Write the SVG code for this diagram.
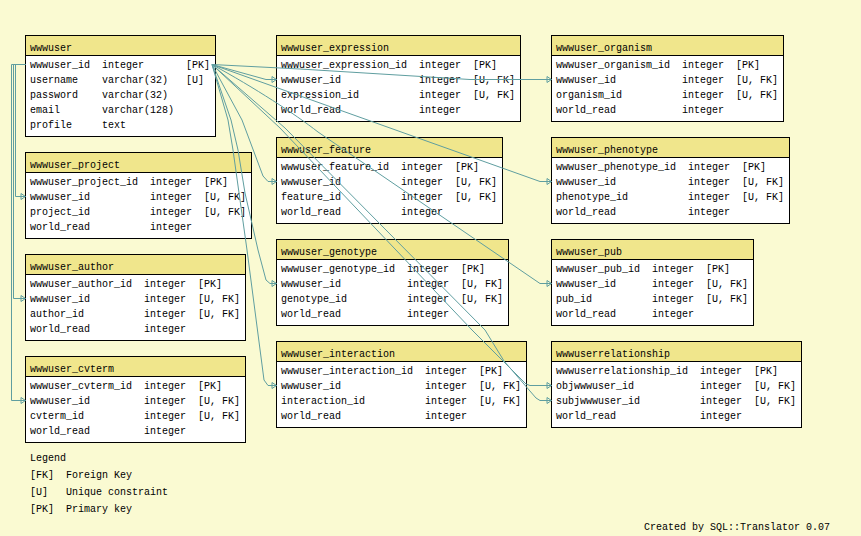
<svg xmlns="http://www.w3.org/2000/svg" width="861" height="536" viewBox="0 0 861 536">
<style>
text{font-family:"Liberation Mono","DejaVu Sans Mono",monospace;font-size:10px;fill:#000}
.box{fill:#fff;stroke:#000;stroke-width:1}
.hdr{fill:#f0e68c;stroke:#000;stroke-width:1}
.e{fill:none;stroke:#5f9ea0;stroke-width:1;marker-end:url(#arr)}
</style>
<defs>
<marker id="arr" markerUnits="userSpaceOnUse" markerWidth="6" markerHeight="8" viewBox="-1 -4 6 8" refX="4.5" refY="0" orient="auto">
<path d="M0,-3 L4.5,0 L0,3 Z" fill="none" stroke="#5f9ea0" stroke-width="1"/>
</marker>
</defs>
<rect x="0" y="0" width="861" height="536" fill="#fafad2"/>

<g id="wwwuser">
<rect class="box" x="25.5" y="35.5" width="190" height="101"/>
<rect class="hdr" x="25.5" y="35.5" width="190" height="20"/>
<text x="30" y="51">wwwuser</text>
<text x="30" y="68">wwwuser_id</text><text x="102" y="68">integer</text><text x="186" y="68">[PK]</text>
<text x="30" y="83">username</text><text x="102" y="83">varchar(32)</text><text x="186" y="83">[U]</text>
<text x="30" y="98">password</text><text x="102" y="98">varchar(32)</text>
<text x="30" y="113">email</text><text x="102" y="113">varchar(128)</text>
<text x="30" y="128">profile</text><text x="102" y="128">text</text>
</g>

<g id="wwwuser_project">
<rect class="box" x="25.5" y="152.5" width="226" height="86"/>
<rect class="hdr" x="25.5" y="152.5" width="226" height="20"/>
<text x="30" y="168">wwwuser_project</text>
<text x="30" y="185">wwwuser_project_id</text><text x="150" y="185">integer</text><text x="204" y="185">[PK]</text>
<text x="30" y="200">wwwuser_id</text><text x="150" y="200">integer</text><text x="204" y="200">[U, FK]</text>
<text x="30" y="215">project_id</text><text x="150" y="215">integer</text><text x="204" y="215">[U, FK]</text>
<text x="30" y="230">world_read</text><text x="150" y="230">integer</text>
</g>

<g id="wwwuser_author">
<rect class="box" x="25.5" y="254.5" width="220" height="86"/>
<rect class="hdr" x="25.5" y="254.5" width="220" height="20"/>
<text x="30" y="270">wwwuser_author</text>
<text x="30" y="287">wwwuser_author_id</text><text x="144" y="287">integer</text><text x="198" y="287">[PK]</text>
<text x="30" y="302">wwwuser_id</text><text x="144" y="302">integer</text><text x="198" y="302">[U, FK]</text>
<text x="30" y="317">author_id</text><text x="144" y="317">integer</text><text x="198" y="317">[U, FK]</text>
<text x="30" y="332">world_read</text><text x="144" y="332">integer</text>
</g>

<g id="wwwuser_cvterm">
<rect class="box" x="25.5" y="356.5" width="220" height="86"/>
<rect class="hdr" x="25.5" y="356.5" width="220" height="20"/>
<text x="30" y="372">wwwuser_cvterm</text>
<text x="30" y="389">wwwuser_cvterm_id</text><text x="144" y="389">integer</text><text x="198" y="389">[PK]</text>
<text x="30" y="404">wwwuser_id</text><text x="144" y="404">integer</text><text x="198" y="404">[U, FK]</text>
<text x="30" y="419">cvterm_id</text><text x="144" y="419">integer</text><text x="198" y="419">[U, FK]</text>
<text x="30" y="434">world_read</text><text x="144" y="434">integer</text>
</g>

<g id="wwwuser_expression">
<rect class="box" x="276.5" y="35.5" width="244" height="86"/>
<rect class="hdr" x="276.5" y="35.5" width="244" height="20"/>
<text x="281" y="51">wwwuser_expression</text>
<text x="281" y="68">wwwuser_expression_id</text><text x="419" y="68">integer</text><text x="473" y="68">[PK]</text>
<text x="281" y="83">wwwuser_id</text><text x="419" y="83">integer</text><text x="473" y="83">[U, FK]</text>
<text x="281" y="98">expression_id</text><text x="419" y="98">integer</text><text x="473" y="98">[U, FK]</text>
<text x="281" y="113">world_read</text><text x="419" y="113">integer</text>
</g>

<g id="wwwuser_feature">
<rect class="box" x="276.5" y="137.5" width="226" height="86"/>
<rect class="hdr" x="276.5" y="137.5" width="226" height="20"/>
<text x="281" y="153">wwwuser_feature</text>
<text x="281" y="170">wwwuser_feature_id</text><text x="401" y="170">integer</text><text x="455" y="170">[PK]</text>
<text x="281" y="185">wwwuser_id</text><text x="401" y="185">integer</text><text x="455" y="185">[U, FK]</text>
<text x="281" y="200">feature_id</text><text x="401" y="200">integer</text><text x="455" y="200">[U, FK]</text>
<text x="281" y="215">world_read</text><text x="401" y="215">integer</text>
</g>

<g id="wwwuser_genotype">
<rect class="box" x="276.5" y="239.5" width="232" height="86"/>
<rect class="hdr" x="276.5" y="239.5" width="232" height="20"/>
<text x="281" y="255">wwwuser_genotype</text>
<text x="281" y="272">wwwuser_genotype_id</text><text x="407" y="272">integer</text><text x="461" y="272">[PK]</text>
<text x="281" y="287">wwwuser_id</text><text x="407" y="287">integer</text><text x="461" y="287">[U, FK]</text>
<text x="281" y="302">genotype_id</text><text x="407" y="302">integer</text><text x="461" y="302">[U, FK]</text>
<text x="281" y="317">world_read</text><text x="407" y="317">integer</text>
</g>

<g id="wwwuser_interaction">
<rect class="box" x="276.5" y="341.5" width="250" height="86"/>
<rect class="hdr" x="276.5" y="341.5" width="250" height="20"/>
<text x="281" y="357">wwwuser_interaction</text>
<text x="281" y="374">wwwuser_interaction_id</text><text x="425" y="374">integer</text><text x="479" y="374">[PK]</text>
<text x="281" y="389">wwwuser_id</text><text x="425" y="389">integer</text><text x="479" y="389">[U, FK]</text>
<text x="281" y="404">interaction_id</text><text x="425" y="404">integer</text><text x="479" y="404">[U, FK]</text>
<text x="281" y="419">world_read</text><text x="425" y="419">integer</text>
</g>

<g id="wwwuser_organism">
<rect class="box" x="551.5" y="35.5" width="232" height="86"/>
<rect class="hdr" x="551.5" y="35.5" width="232" height="20"/>
<text x="556" y="51">wwwuser_organism</text>
<text x="556" y="68">wwwuser_organism_id</text><text x="682" y="68">integer</text><text x="736" y="68">[PK]</text>
<text x="556" y="83">wwwuser_id</text><text x="682" y="83">integer</text><text x="736" y="83">[U, FK]</text>
<text x="556" y="98">organism_id</text><text x="682" y="98">integer</text><text x="736" y="98">[U, FK]</text>
<text x="556" y="113">world_read</text><text x="682" y="113">integer</text>
</g>

<g id="wwwuser_phenotype">
<rect class="box" x="551.5" y="137.5" width="238" height="86"/>
<rect class="hdr" x="551.5" y="137.5" width="238" height="20"/>
<text x="556" y="153">wwwuser_phenotype</text>
<text x="556" y="170">wwwuser_phenotype_id</text><text x="688" y="170">integer</text><text x="742" y="170">[PK]</text>
<text x="556" y="185">wwwuser_id</text><text x="688" y="185">integer</text><text x="742" y="185">[U, FK]</text>
<text x="556" y="200">phenotype_id</text><text x="688" y="200">integer</text><text x="742" y="200">[U, FK]</text>
<text x="556" y="215">world_read</text><text x="688" y="215">integer</text>
</g>

<g id="wwwuser_pub">
<rect class="box" x="551.5" y="239.5" width="202" height="86"/>
<rect class="hdr" x="551.5" y="239.5" width="202" height="20"/>
<text x="556" y="255">wwwuser_pub</text>
<text x="556" y="272">wwwuser_pub_id</text><text x="652" y="272">integer</text><text x="706" y="272">[PK]</text>
<text x="556" y="287">wwwuser_id</text><text x="652" y="287">integer</text><text x="706" y="287">[U, FK]</text>
<text x="556" y="302">pub_id</text><text x="652" y="302">integer</text><text x="706" y="302">[U, FK]</text>
<text x="556" y="317">world_read</text><text x="652" y="317">integer</text>
</g>

<g id="wwwuserrelationship">
<rect class="box" x="551.5" y="341.5" width="250" height="86"/>
<rect class="hdr" x="551.5" y="341.5" width="250" height="20"/>
<text x="556" y="357">wwwuserrelationship</text>
<text x="556" y="374">wwwuserrelationship_id</text><text x="700" y="374">integer</text><text x="754" y="374">[PK]</text>
<text x="556" y="389">objwwwuser_id</text><text x="700" y="389">integer</text><text x="754" y="389">[U, FK]</text>
<text x="556" y="404">subjwwwuser_id</text><text x="700" y="404">integer</text><text x="754" y="404">[U, FK]</text>
<text x="556" y="419">world_read</text><text x="700" y="419">integer</text>
</g>

<g id="edges">
<path class="e" d="M25.5,64.5 L15.5,64.5 L15.5,196.5 L25.5,196.5"/>
<path class="e" d="M25.5,64.5 L13.5,64.5 L13.5,298.5 L25.5,298.5"/>
<path class="e" d="M25.5,64.5 L11.5,64.5 L11.5,400.5 L25.5,400.5"/>
<path class="e" d="M212,64.5 L266,79.5 L276.5,79.5"/>
<path class="e" d="M212,64.5 L300,69 L470,79.5 L551.5,79.5"/>
<path class="e" d="M212,64.5 L540,181.5 L551.5,181.5"/>
<path class="e" d="M212,64.5 C255,88 295,114 318,132 L540,283.5 L551.5,283.5"/>
<path class="e" d="M212,64.5 L280,128 L472,330 L526,384 L530,385.5 L551.5,385.5"/>
<path class="e" d="M212,64.5 L285,128 L485,330 L504,361 L536,398 L540,400.5 L551.5,400.5"/>
<path class="e" d="M212,64.5 L242,120 L263,176 L268,181.5 L276.5,181.5"/>
<path class="e" d="M212,64.5 L231,120 L238,150 L245,193 L258,250 L266,280 L270,283.5 L276.5,283.5"/>
<path class="e" d="M212,64.5 L228,120 L233,150 L247,250 L264,380 L268,385.5 L276.5,385.5"/>
</g>

<g id="legend">
<text x="30" y="461">Legend</text>
<text x="30" y="478" xml:space="preserve">[FK]  Foreign Key</text>
<text x="30" y="495" xml:space="preserve">[U]   Unique constraint</text>
<text x="30" y="512" xml:space="preserve">[PK]  Primary key</text>
</g>
<text x="644" y="529.5">Created by SQL::Translator 0.07</text>
</svg>
